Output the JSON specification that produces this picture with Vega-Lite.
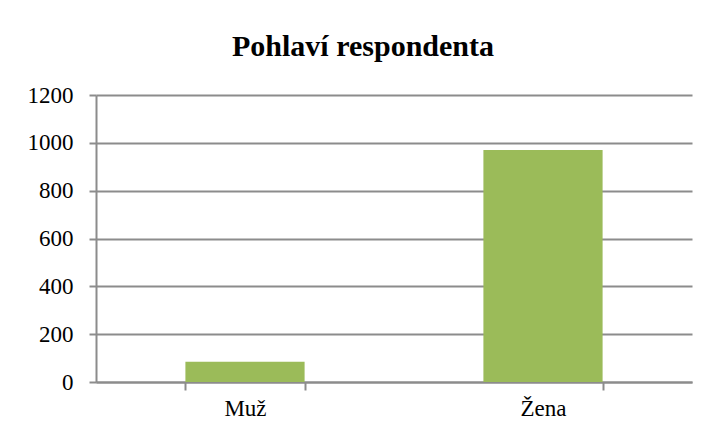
{
  "$schema": "https://vega.github.io/schema/vega-lite/v6.json",
  "width": 596,
  "height": 287,
  "autosize": "none",
  "padding": {"left": 96, "top": 95, "right": 22, "bottom": 55},
  "background": "white",
  "title": {
    "text": "Pohlaví respondenta",
    "font": "Liberation Serif",
    "fontSize": 30,
    "fontWeight": "bold",
    "color": "black",
    "anchor": "middle",
    "dx": -31,
    "offset": 22
  },
  "data": {
    "values": [
      {"pohlavi": "Muž", "pocet": 85},
      {"pohlavi": "Žena", "pocet": 970}
    ]
  },
  "mark": {"type": "bar", "color": "#9BBB59"},
  "encoding": {
    "x": {
      "field": "pohlavi",
      "type": "nominal",
      "sort": null,
      "scale": {"paddingInner": 0.6, "paddingOuter": 0.3},
      "axis": {
        "title": null,
        "labelAngle": 0,
        "labelFont": "Liberation Serif",
        "labelFontSize": 23,
        "labelColor": "black",
        "labelPadding": 7,
        "domainColor": "#8c8c8c",
        "domainWidth": 2,
        "tickColor": "#8c8c8c",
        "tickWidth": 2,
        "tickSize": 8,
        "tickBand": "extent",
        "grid": false
      }
    },
    "y": {
      "field": "pocet",
      "type": "quantitative",
      "scale": {"domain": [0, 1200], "nice": false},
      "axis": {
        "title": null,
        "format": "d",
        "values": [0, 200, 400, 600, 800, 1000, 1200],
        "labelFont": "Liberation Serif",
        "labelFontSize": 23,
        "labelColor": "black",
        "labelPadding": 16,
        "domainColor": "#8c8c8c",
        "domainWidth": 2,
        "tickColor": "#8c8c8c",
        "tickWidth": 2,
        "tickSize": 7,
        "grid": true,
        "gridColor": "#8c8c8c",
        "gridWidth": 2,
        "gridOpacity": 1
      }
    }
  },
  "config": {
    "view": {"stroke": null},
    "axis": {"labelFont": "Liberation Serif"}
  }
}
